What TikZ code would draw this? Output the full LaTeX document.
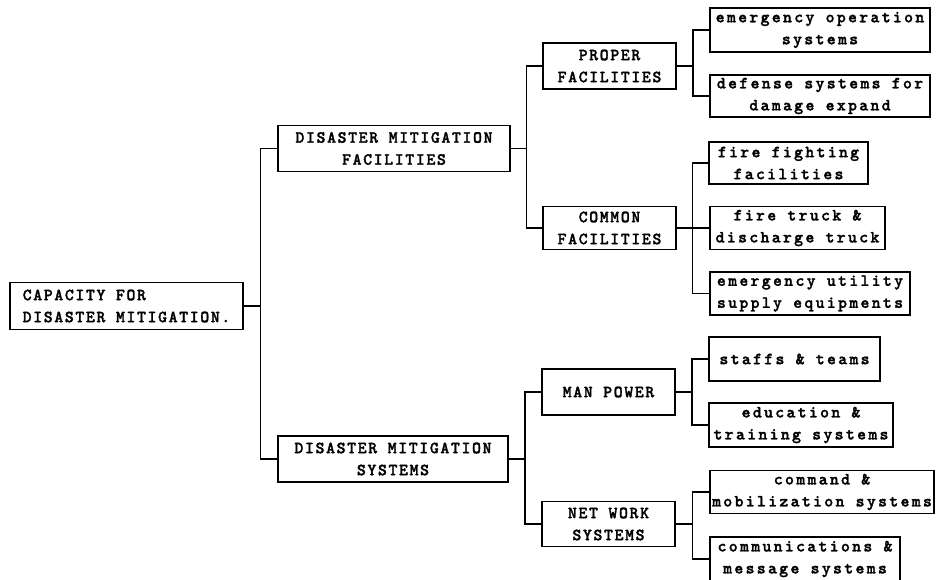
\documentclass[tikz,border=0pt]{standalone}
\usepackage{fontspec}
\newfontfamily\capsfont{lmmonolt10-bold.otf}[LetterSpace=9.5,FakeBold=1.6]
\newfontfamily\lowfont{lmmonolt10-bold.otf}[LetterSpace=13.5,FakeBold=1.6]
\usetikzlibrary{positioning,calc}

\tikzset{
  box/.style={draw, line width=1.5pt, inner sep=0pt, align=center,
    font={\capsfont\fontsize{17}{22}\selectfont}},
  leaf/.style={box, font={\lowfont\fontsize{17}{22}\selectfont}},
  link/.style={line width=1.2pt},
}

\begin{document}
\begin{tikzpicture}[x=1pt,y=-1pt]
  \useasboundingbox (0,0) rectangle (936,579);
  % root and second level
  \node[box, minimum width=233, minimum height=47, align=left] (root) at (126.5,306) {CAPACITY FOR\\DISASTER MITIGATION.};
  \node[box, minimum width=232, minimum height=46] (dmf) at (394,148.5) {DISASTER MITIGATION\\FACILITIES};
  \node[box, minimum width=230, minimum height=46] (dms) at (393,459) {DISASTER MITIGATION\\SYSTEMS};
  % third level
  \node[box, minimum width=133, minimum height=46] (prop) at (609.5,66) {PROPER\\FACILITIES};
  \node[box, minimum width=133, minimum height=43] (comm) at (609.5,228) {COMMON\\FACILITIES};
  \node[box, minimum width=133, minimum height=46] (man) at (608.5,392) {MAN POWER};
  \node[box, minimum width=133, minimum height=45] (net) at (608.5,524) {NET WORK\\SYSTEMS};
  % leaves
  \node[leaf, minimum width=220, minimum height=44] (eo) at (820,30) {emergency operation\\systems};
  \node[leaf, minimum width=220, minimum height=42] (def) at (820,96) {defense systems for\\damage expand};
  \node[leaf, minimum width=159, minimum height=42] (ff) at (788.5,163) {fire fighting\\facilities};
  \node[leaf, minimum width=175, minimum height=43] (ft) at (797.5,228) {fire truck \&\\discharge truck};
  \node[leaf, minimum width=200, minimum height=43] (eu) at (810,293.5) {emergency utility\\supply equipments};
  \node[leaf, minimum width=171, minimum height=44] (staff) at (794.5,359) {staffs \& teams};
  \node[leaf, minimum width=184, minimum height=44] (edu) at (801,425) {education \&\\training systems};
  \node[leaf, minimum width=224, minimum height=43] (cmd) at (822,492) {command \&\\mobilization systems};
  \node[leaf, minimum width=190, minimum height=44] (msg) at (805,559) {communications \&\\message systems};
  % forks
  \foreach \p/\a/\b in {root/dmf/dms, dmf/prop/comm, dms/man/net, prop/eo/def,
                        comm/ff/eu, man/staff/edu, net/cmd/msg} {
    \coordinate (k) at ($(\p.east)!.5!(\p.east -| \a.west)$);
    \draw[link] (\p.east) -- (k);
    \draw[link] (\a.west) -| (k) |- (\b.west);
  }
  \draw[link] (comm.east) -- (ft.west);
\end{tikzpicture}
\end{document}
